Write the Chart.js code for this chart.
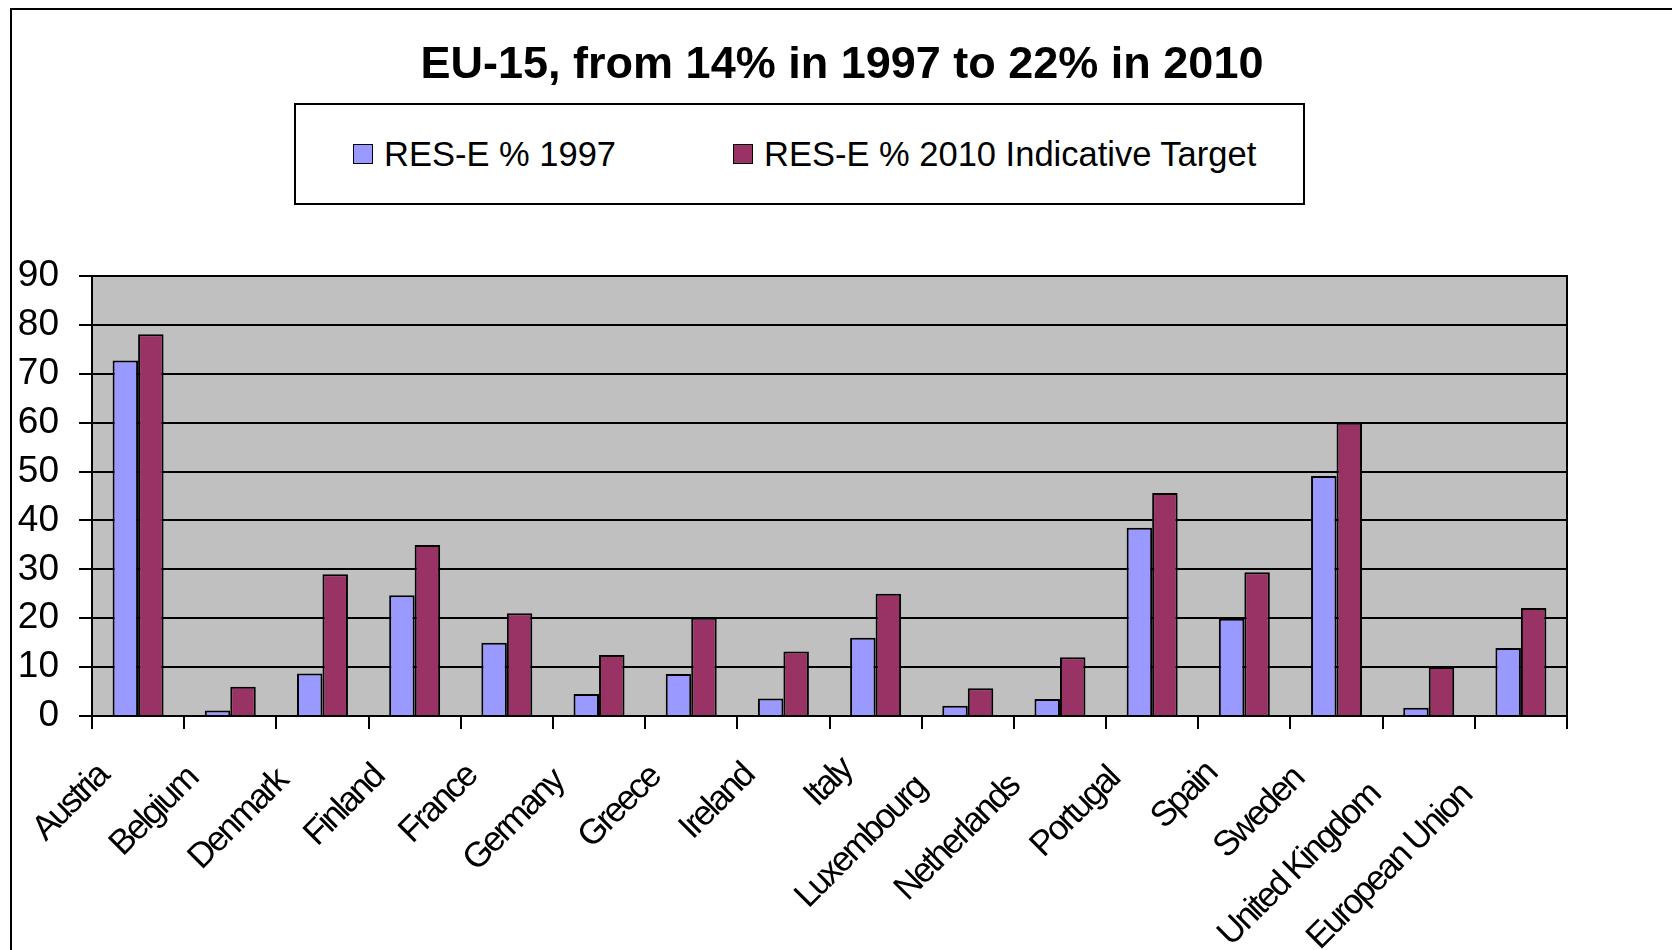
<!DOCTYPE html>
<html>
<head>
<meta charset="utf-8">
<script src="https://cdn.jsdelivr.net/npm/chart.js@4"></script>
<style>
  html, body { margin: 0; padding: 0; background: #fff; }
  #wrap { position: relative; width: 1672px; height: 950px; overflow: hidden; font-family: "Liberation Sans", Arial, sans-serif; }
  #frame { position: absolute; left: 10px; top: 8px; width: 1700px; height: 1000px; border-left: 2px solid #000; border-top: 2px solid #000; }
  #legend { position: absolute; left: 294px; top: 103px; width: 1007px; height: 98px; border: 2px solid #000; background: #fff; }
  .item { position: absolute; top: 0; height: 98px; display: flex; align-items: center; font-size: 34.5px; color: #000; white-space: nowrap; }
  .sw { width: 18px; height: 18px; border: 1.5px solid #000; margin-right: 11px; }
  canvas { position: absolute; left: 0; top: 0; }
</style>
</head>
<body>
<div id="wrap">
  <div id="frame"></div>
  <canvas id="chart" width="1672" height="950"></canvas>
  <div id="legend"></div>
</div>
<script>
// 카테고리와 값
const countries = ['Austria', 'Belgium', 'Denmark', 'Finland', 'France', 'Germany', 'Greece', 'Ireland',
  'Italy', 'Luxembourg', 'Netherlands', 'Portugal', 'Spain', 'Sweden', 'United Kingdom', 'European Union'];
const res1997 = [72.7, 1.1, 8.7, 24.7, 15.0, 4.5, 8.6, 3.6, 16.0, 2.1, 3.5, 38.5, 19.9, 49.1, 1.7, 13.9];
const target2010 = [78.1, 6.0, 29.0, 35.0, 21.0, 12.5, 20.1, 13.2, 25.0, 5.7, 12.0, 45.6, 29.4, 60.0, 10.0, 22.1];
const seriesNames = ['RES-E % 1997', 'RES-E % 2010 Indicative Target'];
const seriesColors = ['#9999FF', '#993366'];
const yTicks = [0, 10, 20, 30, 40, 50, 60, 70, 80, 90];

const FONT = '"Liberation Sans", Arial, sans-serif';
const LABEL_SPACING = '-2.6px';

// 회색 플롯 배경 + 테두리, x 라벨 글자 간격
const plotBg = {
  id: 'plotBg',
  afterLayout(chart) {
    const sx = chart.scales.x;
    if (sx._tight) return;
    const orig = sx.drawLabels;
    sx.drawLabels = function(area) {
      const ctx = this.ctx;
      const items = this.getLabelItems(area);
      if (!items._shifted) {
        // 긴 라벨은 글자 방향으로 조금 더 내려감 (엑셀처럼)
        ctx.save();
        ctx.letterSpacing = LABEL_SPACING;
        items.forEach(it => {
          ctx.font = it.font.string;
          const s = 0.22 * (ctx.measureText(it.label).width - 90);
          it.options.translation[0] -= s * Math.SQRT1_2;
          it.options.translation[1] += s * Math.SQRT1_2;
        });
        ctx.restore();
        items._shifted = true;
      }
      ctx.save();
      ctx.letterSpacing = LABEL_SPACING;
      orig.call(this, area);
      ctx.restore();
    };
    sx._tight = true;
  },
  beforeDraw(chart) {
    const a = chart.chartArea, ctx = chart.ctx;
    ctx.save();
    ctx.fillStyle = '#C0C0C0';
    ctx.fillRect(a.left, a.top, a.right - a.left, a.bottom - a.top);
    ctx.restore();
  },
  beforeDatasetsDraw(chart) {
    const a = chart.chartArea, ctx = chart.ctx;
    ctx.save();
    ctx.strokeStyle = '#000';
    ctx.lineWidth = 2;
    ctx.strokeRect(a.left, a.top, a.right - a.left, a.bottom - a.top);
    ctx.restore();
  }
};

const chart = new Chart(document.getElementById('chart').getContext('2d'), {
  type: 'bar',
  data: {
    labels: countries,
    datasets: [
      { label: seriesNames[0], data: res1997, backgroundColor: seriesColors[0], borderColor: '#000', borderWidth: 2 },
      { label: seriesNames[1], data: target2010, backgroundColor: seriesColors[1], borderColor: '#000', borderWidth: 2 }
    ]
  },
  options: {
    responsive: false,
    devicePixelRatio: 1,
    animation: false,
    datasets: { bar: { categoryPercentage: 0.553, barPercentage: 1 } },
    layout: { padding: { left: 12, right: 0, top: 0, bottom: 0 } },
    plugins: {
      legend: { display: false },
      tooltip: { enabled: false },
      title: {
        display: true,
        text: 'EU-15, from 14% in 1997 to 22% in 2010',
        color: '#000',
        font: { family: FONT, size: 45, weight: 'bold' },
        padding: { top: 39, bottom: 183 }
      }
    },
    scales: {
      x: {
        grid: { display: true, drawOnChartArea: false, drawTicks: true, tickLength: 13, color: '#000', lineWidth: 2, offset: true },
        border: { color: '#000', width: 2 },
        ticks: {
          color: '#000',
          font: { family: FONT, size: 35 },
          minRotation: 45,
          maxRotation: 45,
          autoSkip: false,
          padding: 27,
          labelOffset: -35
        },
        afterFit(scale) { scale.height = 234; }
      },
      y: {
        min: 0,
        max: 90,
        afterBuildTicks(scale) { scale.ticks = yTicks.map(v => ({ value: v })); },
        grid: { color: '#000', lineWidth: 2, drawTicks: true, tickLength: 13 },
        border: { color: '#000', width: 2 },
        ticks: { color: '#000', font: { family: FONT, size: 37 }, padding: 20 },
        afterFit(scale) { scale.width = 80; }
      },
      // 오른쪽 여백용 빈 축
      yRight: {
        position: 'right',
        display: true,
        grid: { display: false },
        border: { display: false },
        ticks: { display: false },
        afterFit(scale) { scale.width = 105; }
      }
    }
  },
  plugins: [plotBg]
});

// 범례 (HTML)
const legendEl = document.getElementById('legend');
const itemLeft = [57, 437];
seriesNames.forEach((name, i) => {
  const it = document.createElement('div');
  it.className = 'item';
  it.style.left = itemLeft[i] + 'px';
  const sw = document.createElement('span');
  sw.className = 'sw';
  sw.style.background = seriesColors[i];
  it.appendChild(sw);
  it.appendChild(document.createTextNode(name));
  legendEl.appendChild(it);
});
</script>
</body>
</html>
